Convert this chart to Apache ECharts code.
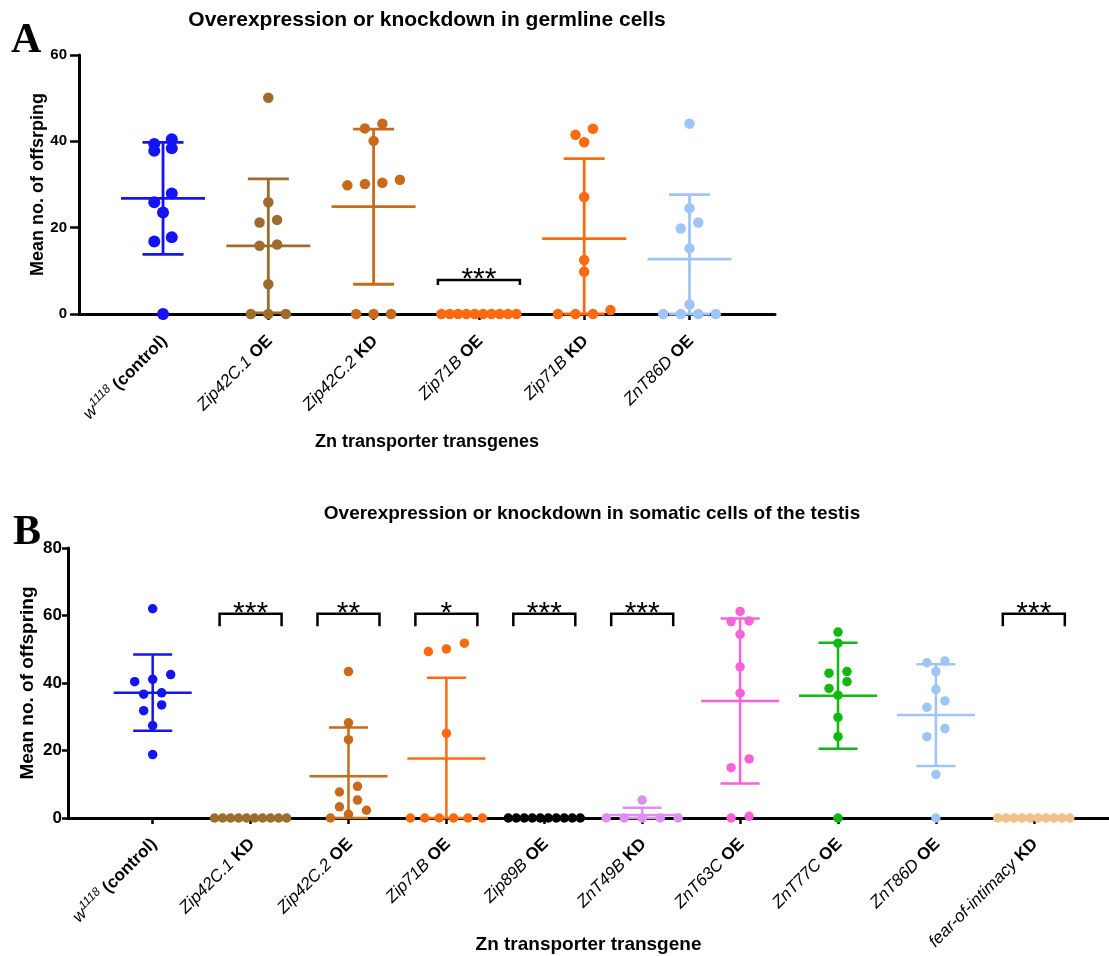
<!DOCTYPE html>
<html>
<head>
<meta charset="utf-8">
<title>Zn transporter transgenes - mean no. of offspring</title>
<script src="https://cdn.jsdelivr.net/npm/echarts@6/dist/echarts.min.js"></script>
<style>
  html, body { margin: 0; padding: 0; background: #fff; }
  #chart { width: 1109px; height: 956px; }
</style>
</head>
<body>
<div id="chart"></div>
<script>
// ---- panel A : germline cells ----
const catsA = ['w1118 (control)', 'Zip42C.1 OE', 'Zip42C.2 KD', 'Zip71B OE', 'Zip71B KD', 'ZnT86D OE']
const aW1118 = [40.5, 39.4, 38.4, 37.8, 27.9, 25.9, 23.5, 17.8, 16.8, 0]
const aZip42C1 = [50.1, 25.9, 21.8, 21.2, 16.1, 15.8, 6.9, 0, 0, 0]
const aZip42C2 = [44.1, 43.0, 40.1, 31.1, 30.4, 30.1, 29.8, 0, 0, 0]
const aZip71BOE = [0, 0, 0, 0, 0, 0, 0, 0, 0, 0]
const aZip71BKD = [42.9, 41.5, 39.8, 27.1, 12.5, 9.8, 0.9, 0, 0, 0]
const aZnT86D = [44.1, 24.5, 21.2, 19.8, 15.2, 2.2, 0, 0, 0, 0]
const colorsA = ['#1414f2', '#9d6b2b', '#c8691c', '#ff6a10', '#ff6a10', '#9fc5f5']
const sigCatsA = [3]
const sigLabelsA = ['***']
const sigLevelA = 7.9

// ---- panel B : somatic cells of the testis ----
const catsB = ['w1118 (control)', 'Zip42C.1 KD', 'Zip42C.2 OE', 'Zip71B OE', 'Zip89B OE',
  'ZnT49B KD', 'ZnT63C OE', 'ZnT77C OE', 'ZnT86D OE', 'fear-of-intimacy KD']
const bW1118 = [62.0, 42.5, 41.1, 40.4, 37.1, 36.7, 33.5, 31.8, 27.4, 18.8]
const bZip42C1 = [0, 0, 0, 0, 0, 0, 0, 0, 0, 0]
const bZip42C2 = [43.4, 28.2, 23.2, 9.4, 7.7, 5.3, 3.3, 2.3, 1.1, 0]
const bZip71B = [51.8, 50.1, 49.3, 25.1, 0, 0, 0, 0, 0, 0]
const bZip89B = [0, 0, 0, 0, 0, 0, 0, 0, 0, 0]
const bZnT49B = [5.3, 0, 0, 0, 0, 0]
const bZnT63C = [61.2, 58.4, 58.2, 54.4, 44.8, 37.0, 17.5, 14.9, 0.5, 0]
const bZnT77C = [55.1, 51.8, 43.4, 42.9, 40.4, 38.4, 36.4, 29.8, 24.1, 0]
const bZnT86D = [46.5, 46.0, 43.4, 38.1, 34.7, 32.8, 26.5, 24.1, 12.9, 0]
const bFoi = [0, 0, 0, 0, 0, 0, 0, 0, 0, 0]
const colorsB = ['#1414f2', '#9d6b2b', '#c8691c', '#ff6a10', '#000000',
  '#de8ff2', '#f862d8', '#10b810', '#9fc5f5', '#f3c18a']
const sigCatsB = [1, 2, 3, 4, 5, 9]
const sigLabelsB = ['***', '**', '*', '***', '***', '***']
const sigLevelB = 60.5

const FONT = '"Liberation Sans", Arial, Helvetica, sans-serif'

function mean(a) {
	return a.reduce((s, v) => s + v, 0) / a.length
}
function sd(a) {
	const m = mean(a)
	return Math.sqrt(a.reduce((s, v) => s + (v - m) * (v - m), 0) / (a.length - 1))
}

// GraphPad-like scatter: points close in value share a row and are spread sideways
function swarm(vals, rowH, stepPx, maxW, pxPerIdx) {
	const order = vals.map((v, k) => k).sort((a, b) => vals[b] - vals[a])
	const offs = vals.map(() => 0)
	let r = 0
	while (r < order.length) {
		let e = r
		while (e + 1 < order.length && vals[order[r]] - vals[order[e + 1]] <= rowH) e++
		const row = order.slice(r, e + 1).sort((a, b) => vals[a] - vals[b])
		const n = row.length
		const sp = n > 1 ? Math.min(stepPx, maxW / (n - 1)) : 0
		row.forEach((k, j) => { offs[k] = (j - (n - 1) / 2) * sp / pxPerIdx })
		r = e + 1
	}
	return offs
}

function labelFormatter(cats) {
	return function (val) {
		const s = cats[Math.round(val)]
		if (!s) return ''
		const k = s.lastIndexOf(' ')
		const gene = s.slice(0, k)
		const kind = s.slice(k + 1)
		const g = gene === 'w1118' ? '{it|w}{sup|1118}' : '{it|' + gene + '}'
		return g + '{it| }{b|' + kind + '}'
	}
}

const panels = [
	{
		cats: catsA, groups: [aW1118, aZip42C1, aZip42C2, aZip71BOE, aZip71BKD, aZnT86D], colors: colorsA,
		sigCats: sigCatsA, sigLabels: sigLabelsA, sigLevel: sigLevelA,
		yMax: 60, yName: 'Mean no. of offsrping', xName: 'Zn transporter transgenes',
		grid: { left: 79, top: 55, width: 696, height: 259 }, xMin: -0.798, xMax: 5.812,
		dot: 10.5, firstDot: 12, lw: 2.8, meanHalf: 42, capHalf: 20.5, step: 17.5, maxW: 75,
		bracketHalf: 41, bracketLeg: 5, yTick: 9, yLabelSize: 15, yLabelMargin: 12,
		yNameSize: 18, yNameGap: 32, xNameSize: 18, xNameGap: 119, labelMargin: 23, labelPad: 4
	},
	{
		cats: catsB, groups: [bW1118, bZip42C1, bZip42C2, bZip71B, bZip89B, bZnT49B, bZnT63C, bZnT77C, bZnT86D, bFoi],
		colors: colorsB, sigCats: sigCatsB, sigLabels: sigLabelsB, sigLevel: sigLevelB,
		yMax: 80, yName: 'Mean no. of offspring', xName: 'Zn transporter transgene',
		grid: { left: 68, top: 548, width: 1041, height: 270 }, xMin: -0.865, xMax: 9.768,
		dot: 9.5, firstDot: 9.5, lw: 2.5, meanHalf: 39, capHalf: 19.5, step: 18, maxW: 72,
		bracketHalf: 31, bracketLeg: 12.5, yTick: 6, yLabelSize: 17, yLabelMargin: 6,
		yNameSize: 19, yNameGap: 31, xNameSize: 19, xNameGap: 117, labelMargin: 22, labelPad: 4
	}
]

const option = {
	animation: false,
	grid: panels.map(p => Object.assign({ containLabel: false, outerBoundsMode: 'none' }, p.grid)),
	xAxis: [],
	yAxis: [],
	series: [],
	graphic: [
		{ type: 'text', x: 427, y: 20, style: { text: 'Overexpression or knockdown in germline cells', font: 'bold 21px ' + FONT, fill: '#000', align: 'center', verticalAlign: 'middle', textAlign: 'center', textVerticalAlign: 'middle' } },
		{ type: 'text', x: 592, y: 514, style: { text: 'Overexpression or knockdown in somatic cells of the testis', font: 'bold 19px ' + FONT, fill: '#000', align: 'center', verticalAlign: 'middle', textAlign: 'center', textVerticalAlign: 'middle' } },
		{ type: 'text', x: 11, y: 41, style: { text: 'A', font: 'bold 42px "Liberation Serif", "Times New Roman", serif', fill: '#000', verticalAlign: 'middle', textVerticalAlign: 'middle' } },
		{ type: 'text', x: 13, y: 533, style: { text: 'B', font: 'bold 42px "Liberation Serif", "Times New Roman", serif', fill: '#000', verticalAlign: 'middle', textVerticalAlign: 'middle' } }
	]
}

panels.forEach((p, k) => {
	const idx = p.cats.map((c, i) => i)
	const pxPerIdx = p.grid.width / (p.xMax - p.xMin)
	const rowH = p.yMax / 30

	option.xAxis.push({
		gridIndex: k, type: 'value', min: p.xMin, max: p.xMax,
		splitLine: { show: false },
		axisLine: { show: true, onZero: false, lineStyle: { color: '#000', width: 3 } },
		axisTick: { show: true, customValues: idx, length: 6, lineStyle: { color: '#000', width: 2.5 } },
		axisLabel: {
			customValues: idx, rotate: 45, margin: p.labelMargin, padding: [p.labelPad, 0, 0, 0],
			formatter: labelFormatter(p.cats),
			rich: {
				it: { fontStyle: 'italic', fontSize: 17, fontFamily: FONT, color: '#000', lineHeight: 22 },
				b: { fontWeight: 'bold', fontSize: 17, fontFamily: FONT, color: '#000', lineHeight: 22 },
				sup: { fontStyle: 'italic', fontSize: 12, fontFamily: FONT, color: '#000', lineHeight: 12, verticalAlign: 'top' }
			}
		},
		name: p.xName, nameLocation: 'middle', nameGap: p.xNameGap, nameMoveOverlap: false,
		nameTextStyle: { fontWeight: 'bold', fontSize: p.xNameSize, fontFamily: FONT, color: '#000' }
	})

	option.yAxis.push({
		gridIndex: k, type: 'value', min: 0, max: p.yMax, interval: 20,
		splitLine: { show: false },
		axisLine: { show: true, onZero: false, lineStyle: { color: '#000', width: 3 } },
		axisTick: { show: true, length: p.yTick, lineStyle: { color: '#000', width: 2.5 } },
		axisLabel: { fontWeight: 'bold', fontSize: p.yLabelSize, fontFamily: FONT, color: '#000', margin: p.yLabelMargin },
		name: p.yName, nameLocation: 'middle', nameGap: p.yNameGap, nameMoveOverlap: false,
		nameTextStyle: { fontWeight: 'bold', fontSize: p.yNameSize, fontFamily: FONT, color: '#000' }
	})

	// mean and SD bars
	option.series.push({
		type: 'custom', xAxisIndex: k, yAxisIndex: k, silent: true, z: 3,
		encode: { x: 0, y: 1 },
		data: p.groups.map((g, i) => [i, mean(g), sd(g)]),
		renderItem: function (params, api) {
			const i = api.value(0), m = api.value(1), s = api.value(2)
			const c = p.colors[i]
			const pm = api.coord([i, m])
			const pt = api.coord([i, m + s])
			const pb = api.coord([i, Math.max(m - s, 0)])
			const st = { stroke: c, lineWidth: p.lw }
			return {
				type: 'group',
				children: [
					{ type: 'line', shape: { x1: pt[0], y1: pt[1], x2: pb[0], y2: pb[1] }, style: st },
					{ type: 'line', shape: { x1: pm[0] - p.meanHalf, y1: pm[1], x2: pm[0] + p.meanHalf, y2: pm[1] }, style: st },
					{ type: 'line', shape: { x1: pt[0] - p.capHalf, y1: pt[1], x2: pt[0] + p.capHalf, y2: pt[1] }, style: st },
					{ type: 'line', shape: { x1: pb[0] - p.capHalf, y1: pb[1], x2: pb[0] + p.capHalf, y2: pb[1] }, style: st }
				]
			}
		}
	})

	// individual flies
	p.groups.forEach((g, i) => {
		const offs = swarm(g, rowH, p.step, p.maxW, pxPerIdx)
		option.series.push({
			type: 'scatter', xAxisIndex: k, yAxisIndex: k, silent: true, z: 4,
			symbol: 'circle', symbolSize: i === 0 ? p.firstDot : p.dot,
			itemStyle: { color: p.colors[i], opacity: 1 },
			data: g.map((v, j) => [i + offs[j], v])
		})
	})

	// significance brackets
	option.series.push({
		type: 'custom', xAxisIndex: k, yAxisIndex: k, silent: true, z: 5,
		encode: { x: 0, y: 1 },
		data: p.sigCats.map((c, j) => [c, p.sigLevel, j]),
		renderItem: function (params, api) {
			const c = api.value(0), lvl = api.value(1), j = api.value(2)
			const pt = api.coord([c, lvl])
			const h = p.bracketHalf, leg = p.bracketLeg
			return {
				type: 'group',
				children: [
					{
						type: 'polyline',
						shape: { points: [[pt[0] - h, pt[1] + leg], [pt[0] - h, pt[1]], [pt[0] + h, pt[1]], [pt[0] + h, pt[1] + leg]] },
						style: { stroke: '#000', lineWidth: 2.5, fill: null }
					},
					{
						type: 'text', x: pt[0], y: pt[1] - 0.5,
						style: { text: p.sigLabels[j], font: '30px ' + FONT, fill: '#000', align: 'center', verticalAlign: 'middle', textAlign: 'center', textVerticalAlign: 'middle' }
					}
				]
			}
		}
	})
})

const chart = echarts.init(document.getElementById('chart'), null, { renderer: 'canvas' })
chart.setOption(option)
window.addEventListener('resize', () => chart.resize())
</script>
</body>
</html>
